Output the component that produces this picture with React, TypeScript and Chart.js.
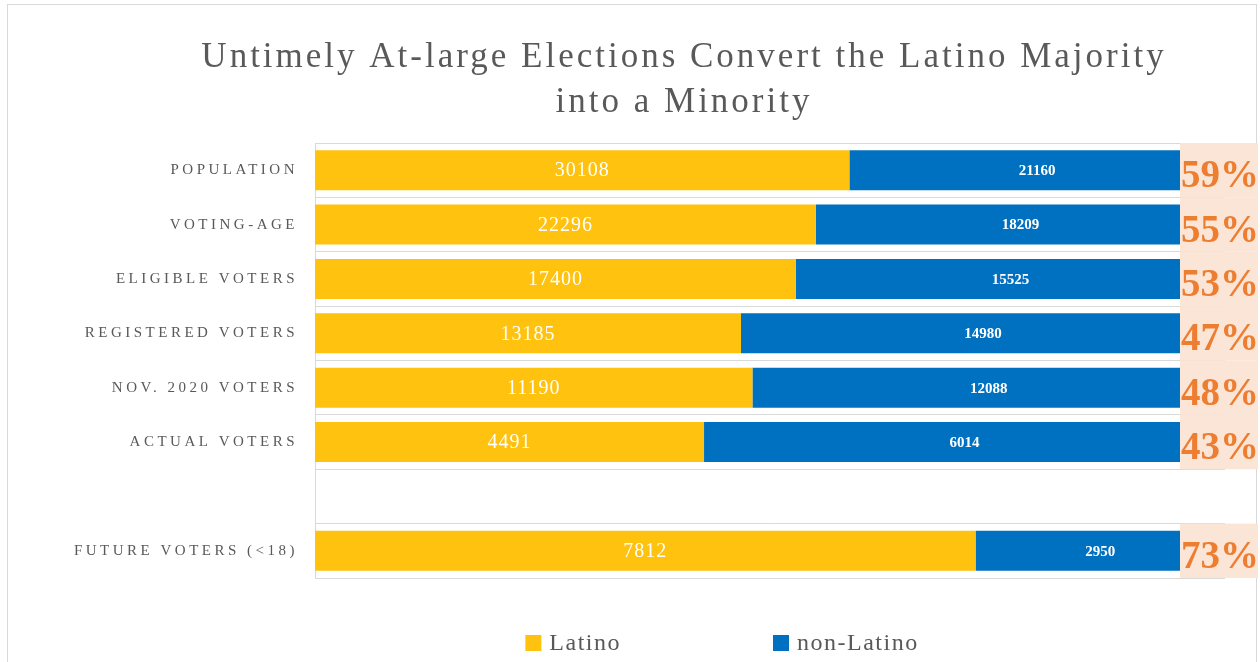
import React, { useEffect, useRef } from 'react';
import { Chart, registerables } from 'chart.js';

Chart.register(...registerables);

const categories = [
  'POPULATION',
  'VOTING-AGE',
  'ELIGIBLE VOTERS',
  'REGISTERED VOTERS',
  'NOV. 2020 VOTERS',
  'ACTUAL VOTERS',
  '',
  'FUTURE VOTERS (<18)',
];
const latino: (number | null)[] = [30108, 22296, 17400, 13185, 11190, 4491, null, 7812];
const nonLatino: (number | null)[] = [21160, 18209, 15525, 14980, 12088, 6014, null, 2950];
const seriesNames = ['Latino', 'non-Latino'];
const titleLines = ['Untimely At-large Elections Convert the Latino Majority', 'into a Minority'];

const YELLOW = '#FFC20E';
const BLUE = '#0070C0';
const ORANGE = '#ED7D31';
const PEACH = '#FBE5D6';
const GREY_TEXT = '#595959';
const GRID = '#D9D9D9';
const SERIF = "'Liberation Serif', 'Times New Roman', serif";

const rawSeries = [latino, nonLatino];

function share(a: number | null, b: number | null): number | null {
  if (a == null || b == null) return null;
  return a / (a + b);
}

const latinoShare = latino.map((v, i) => share(v, nonLatino[i]));
const nonLatinoShare = nonLatino.map((v, i) => share(v, latino[i]));

const overlayPlugin = {
  id: 'overlayPlugin',
  beforeDraw(chart: any) {
    const ctx = chart.ctx as any;
    ctx.save();
    ctx.strokeStyle = '#D9D9D9';
    ctx.lineWidth = 1;
    ctx.strokeRect(7.5, 4.5, chart.width - 11, chart.height + 20);
    ctx.restore();
    ctx.letterSpacing = '3px';
  },
  afterDatasetsDraw(chart: any) {
    const ctx = chart.ctx as any;
    ctx.letterSpacing = '0px';
    // value labels inside bars
    chart.data.datasets.forEach((ds: any, d: number) => {
      const meta = chart.getDatasetMeta(d);
      meta.data.forEach((bar: any, i: number) => {
        const raw = rawSeries[d][i];
        if (raw == null) return;
        const p = bar.getProps(['x', 'y', 'base'], true);
        const cx = (p.x + p.base) / 2;
        ctx.save();
        ctx.fillStyle = '#FFFFFF';
        ctx.textAlign = 'center';
        ctx.textBaseline = 'middle';
        if (d === 0) {
          ctx.font = `20px ${SERIF}`;
          ctx.letterSpacing = '1px';
        } else {
          ctx.font = `bold 15px ${SERIF}`;
          ctx.letterSpacing = '0px';
        }
        ctx.fillText(String(raw), cx, p.y + 1);
        ctx.restore();
      });
    });
    // peach overlay with percentages
    const ys = chart.scales.y;
    const area = chart.chartArea;
    const step = (ys.bottom - ys.top) / categories.length;
    const boxLeft = area.right - 45;
    const boxRight = chart.width - 2;
    categories.forEach((_, i) => {
      const s = latinoShare[i];
      if (s == null) return;
      const cy = ys.getPixelForValue(i);
      ctx.save();
      ctx.fillStyle = PEACH;
      ctx.fillRect(boxLeft, cy - step / 2, boxRight - boxLeft, step);
      ctx.restore();
    });
    categories.forEach((_, i) => {
      const s = latinoShare[i];
      if (s == null) return;
      const cy = ys.getPixelForValue(i);
      ctx.save();
      ctx.fillStyle = ORANGE;
      ctx.font = `bold 39px ${SERIF}`;
      ctx.textAlign = 'left';
      ctx.textBaseline = 'alphabetic';
      ctx.fillText(`${Math.round(s * 100)}%`, boxLeft + 1, cy + 17);
      ctx.restore();
    });
    // spacing for category labels drawn after datasets
    ctx.letterSpacing = '3.5px';
  },
  afterDraw(chart: any) {
    const ctx = chart.ctx as any;
    ctx.save();
    ctx.letterSpacing = '1.5px';
    ctx.font = `24px ${SERIF}`;
    const colors = [YELLOW, BLUE];
    const box = 16;
    const gap = 8;
    const itemGap = 152;
    const widths = seriesNames.map((n) => ctx.measureText(n).width);
    const total = widths.reduce((a: number, w: number) => a + box + gap + w, 0) + itemGap * (seriesNames.length - 1);
    let x = 722 - total / 2;
    const baseline = 650;
    seriesNames.forEach((name, i) => {
      ctx.fillStyle = colors[i];
      ctx.fillRect(x, baseline - 15, box, box);
      x += box + gap;
      ctx.fillStyle = GREY_TEXT;
      ctx.textAlign = 'left';
      ctx.textBaseline = 'alphabetic';
      ctx.fillText(name, x, baseline);
      x += widths[i] + itemGap;
    });
    ctx.restore();
    ctx.letterSpacing = '0px';
  },
};

export default function App() {
  const canvasRef = useRef<HTMLCanvasElement | null>(null);

  useEffect(() => {
    if (!canvasRef.current) return;
    const chart = new Chart(canvasRef.current, {
      type: 'bar',
      data: {
        labels: categories,
        datasets: [
          {
            label: seriesNames[0],
            data: latinoShare as any,
            backgroundColor: YELLOW,
            borderWidth: 0,
            categoryPercentage: 0.8,
            barPercentage: 0.92,
          },
          {
            label: seriesNames[1],
            data: nonLatinoShare as any,
            backgroundColor: BLUE,
            borderWidth: 0,
            categoryPercentage: 0.8,
            barPercentage: 0.92,
          },
        ],
      },
      options: {
        indexAxis: 'y',
        animation: false,
        responsive: true,
        maintainAspectRatio: false,
        events: [],
        layout: { padding: { left: 143, right: 35, top: 0, bottom: 84 } },
        plugins: {
          legend: { display: false },
          tooltip: { enabled: false },
          title: {
            display: true,
            text: titleLines,
            color: GREY_TEXT,
            font: { family: SERIF, size: 35, weight: 'normal', lineHeight: 1.3 },
            padding: { top: 35, bottom: 17 },
          },
        },
        scales: {
          x: {
            stacked: true,
            min: 0,
            max: 1,
            display: false,
          },
          y: {
            stacked: true,
            grid: { color: GRID, drawTicks: false, offset: true },
            border: { display: true, color: GRID },
            ticks: {
              color: GREY_TEXT,
              font: { family: SERIF, size: 15 },
              padding: 17,
              z: 1,
              autoSkip: false,
            },
            afterFit: (scale: any) => {
              scale.width = 172;
              // allow long category labels to extend into the left margin
              scale._computeLabelArea = () => undefined;
            },
          },
        },
      },
      plugins: [overlayPlugin],
    } as any);
    return () => chart.destroy();
  }, []);

  return (
    <div style={{ position: 'absolute', left: 0, top: 0, width: 1260, height: 662, background: '#FFFFFF' }}>
      <canvas ref={canvasRef} />
    </div>
  );
}
